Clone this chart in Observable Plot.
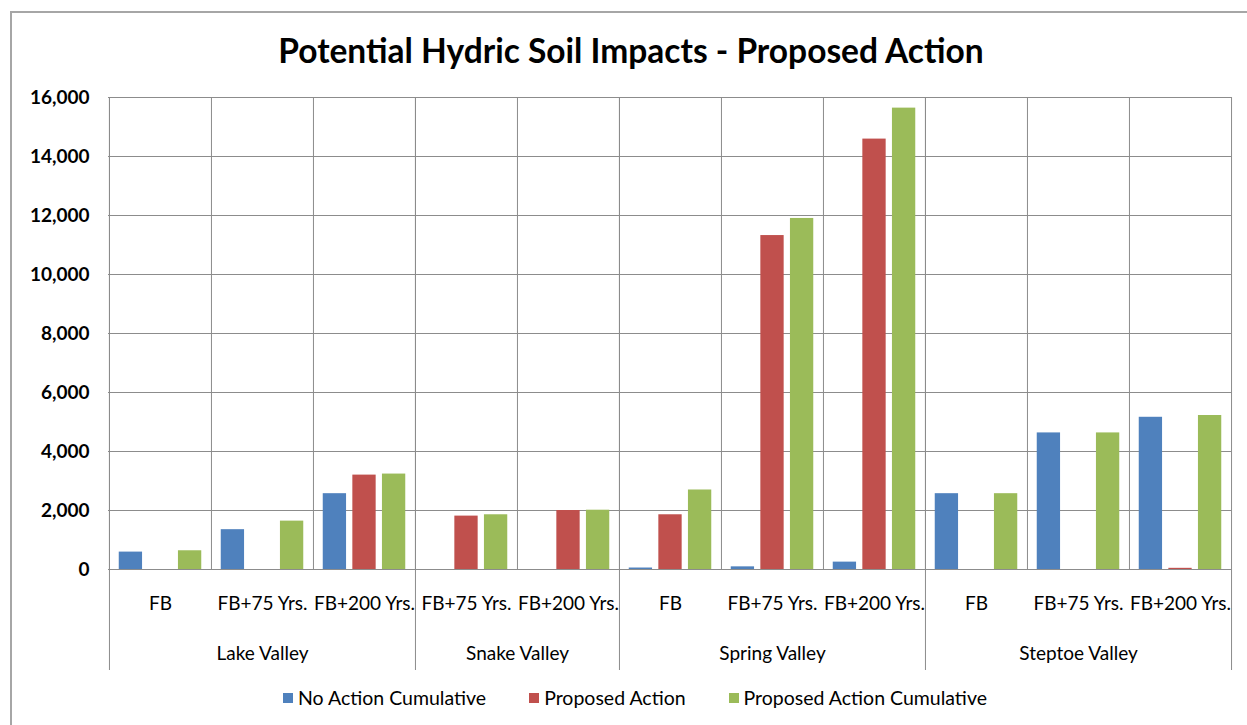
<!DOCTYPE html>
<html>
<head>
<meta charset="utf-8">
<script src="https://cdn.jsdelivr.net/npm/d3@7"></script>
<script src="https://cdn.jsdelivr.net/npm/@observablehq/plot@0.6"></script>
<style>
  html, body { margin: 0; padding: 0; background: #fff; }
  body { width: 1247px; height: 725px; overflow: hidden; position: relative; font-family: Lato, "Open Sans", sans-serif; }
  #border { position: absolute; left: 10px; top: 11px; width: 1300px; height: 800px; border-left: 2px solid #a6a6a6; border-top: 2px solid #a6a6a6; box-sizing: border-box; }
  #title { position: absolute; left: 0; width: 1262px; top: 29px; text-align: center; font-weight: 700; font-size: 33.5px; color: #000; line-height: 42px; }
  #chart { position: absolute; left: 0; top: 80px; }
  #legend { position: absolute; left: 0; width: 1270px; top: 686px; display: flex; justify-content: center; gap: 43px; font-size: 19.5px; color: #000; }
  #legend span.item { display: flex; align-items: center; gap: 5px; }
  #legend span.sw { width: 10px; height: 10px; display: inline-block; }
</style>
</head>
<body>
<div id="border"></div>
<div id="title">Potential Hydric Soil Impacts - Proposed Action</div>
<div id="chart"></div>
<div id="legend"></div>
<script>
// ---- data ----
const valleys = ["Lake Valley", "Lake Valley", "Lake Valley", "Snake Valley", "Snake Valley",
  "Spring Valley", "Spring Valley", "Spring Valley", "Steptoe Valley", "Steptoe Valley", "Steptoe Valley"];
const periods = ["FB", "FB+75 Yrs.", "FB+200 Yrs.", "FB+75 Yrs.", "FB+200 Yrs.",
  "FB", "FB+75 Yrs.", "FB+200 Yrs.", "FB", "FB+75 Yrs.", "FB+200 Yrs."];
const seriesNames = ["No Action Cumulative", "Proposed Action", "Proposed Action Cumulative"];
const noActionCumulative = [590, 1350, 2570, 0, 0, 50, 90, 250, 2570, 4630, 5160];
const proposedAction = [0, 0, 3200, 1810, 2000, 1855, 11320, 14590, 0, 0, 40];
const proposedActionCumulative = [635, 1640, 3235, 1855, 2010, 2695, 11900, 15640, 2570, 4630, 5220];
const yTicks = [0, 2000, 4000, 6000, 8000, 10000, 12000, 14000, 16000];
const colors = ["#4f81bd", "#c0504d", "#9bbb59"];

// ---- build table ----
const keys = periods.map((p, i) => valleys[i] + "|" + p);
const seriesValues = [noActionCumulative, proposedAction, proposedActionCumulative];
const rows = seriesValues.map(vals => keys.map((k, i) => ({key: k, period: periods[i], valley: valleys[i], value: vals[i]})));
const valleyNames = [...new Set(valleys)];
const valleyFirst = valleyNames.map(v => keys[valleys.indexOf(v)]);
const valleyLabel = valleyNames.map(v => {
  const idx = valleys.map((x, i) => x === v ? i : -1).filter(i => i >= 0);
  const mid = idx[Math.floor(idx.length / 2)];
  return {valley: v, key: keys[mid], even: idx.length % 2 === 0, prevKey: keys[mid - 1]};
});

const W = 1247, ML = 108, MR = 16, MT = 17, H = 590;
const bw = (W - ML - MR) / keys.length;
const barW = 23.4, step = 29.6;
const inset = (bw - barW) / 2;
const gridStroke = "#8c8c8c";
const labelFont = 19;

const plot = Plot.plot({
  width: W,
  height: H,
  marginLeft: ML,
  marginRight: MR,
  marginTop: MT,
  marginBottom: 0,
  style: {fontFamily: "Lato, 'Open Sans', sans-serif", fontSize: "16px", color: "#000", background: "transparent", overflow: "visible"},
  x: {type: "band", domain: keys, padding: 0, axis: null},
  y: {domain: [0, 16000], range: [489, 17], axis: null},
  marks: [
    Plot.ruleY(yTicks, {y: d => d, stroke: gridStroke, strokeWidth: 1}),
    Plot.ruleX(keys, {x: d => d, dx: -bw / 2, y1: () => yTicks[0], y2: () => yTicks[yTicks.length - 1], stroke: gridStroke}),
    Plot.ruleX([keys[keys.length - 1]], {x: d => d, dx: bw / 2, stroke: gridStroke}),
    Plot.ruleX(valleyFirst, {x: d => d, dx: -bw / 2, stroke: gridStroke}),
    ...rows.map((data, s) => Plot.barY(data, {
      x: "key", y: "value", fill: colors[s],
      dx: (s - 1) * step, insetLeft: inset, insetRight: inset
    })),
    Plot.text(yTicks, {y: d => d, text: d => d3.format(",")(d), frameAnchor: "left", textAnchor: "end", dx: -19, fontWeight: 700, fontSize: 19}),
    Plot.text(rows[0], {x: "key", text: "period", frameAnchor: "bottom", dy: -61, fontSize: labelFont}),
    Plot.text(valleyLabel.filter(d => !d.even), {x: "key", text: "valley", frameAnchor: "bottom", dy: -11, fontSize: labelFont}),
    Plot.text(valleyLabel.filter(d => d.even), {x: "prevKey", text: "valley", frameAnchor: "bottom", dy: -11, dx: bw / 2, fontSize: labelFont})
  ]
});
document.getElementById("chart").appendChild(plot);

const legend = document.getElementById("legend");
seriesNames.forEach((n, i) => {
  const it = document.createElement("span");
  it.className = "item";
  const sw = document.createElement("span");
  sw.className = "sw";
  sw.style.background = colors[i];
  it.appendChild(sw);
  it.appendChild(document.createTextNode(n));
  legend.appendChild(it);
});
</script>
</body>
</html>
